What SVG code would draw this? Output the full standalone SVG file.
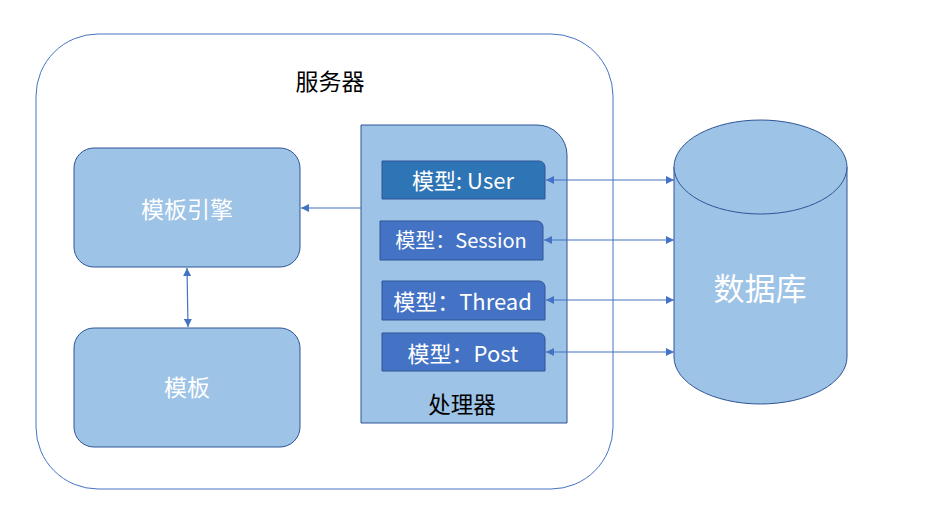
<svg xmlns="http://www.w3.org/2000/svg" width="942" height="531" viewBox="0 0 942 531">
<defs>
<style>
.box{fill:#9DC3E6;stroke:#2F5597;stroke-width:1}
.model{stroke:#2F5597;stroke-width:1}
.wt{fill:#FFFFFF;font-family:"Noto Sans CJK SC","Noto Sans",sans-serif;text-anchor:middle;dominant-baseline:central}
.bt{fill:#000000;font-family:"Noto Sans CJK SC","Noto Sans",sans-serif;text-anchor:middle;dominant-baseline:central}
.conn{stroke:#4472C4;stroke-width:1.2;fill:none}
</style>
<marker id="ah" viewBox="0 0 10 10" refX="10" refY="5" markerWidth="8" markerHeight="8" markerUnits="userSpaceOnUse" orient="auto-start-reverse">
<path d="M0,0 L10,5 L0,10 z" fill="#4472C4"/>
</marker>
</defs>
<rect width="942" height="531" fill="#FFFFFF"/>
<g id="server">
<rect x="36" y="34" width="577" height="455" rx="62" ry="62" fill="#FFFFFF" stroke="#4472C4" stroke-width="1"/>
<text class="bt" x="330" y="80" font-size="23">服务器</text>
</g>
<g id="processor">
<path class="box" d="M361,125 H537 A30,30 0 0 1 567,155 V423 H361 Z"/>
<text class="bt" x="462" y="403" font-size="22.5">处理器</text>
</g>
<g id="model-user">
<path class="model" fill="#2E75B6" d="M382,161 H539 A6,6 0 0 1 545,167 V199 H382 Z"/>
<text class="wt" x="463" y="178.5" font-size="22">模型: User</text>
</g>
<g id="model-session">
<path class="model" fill="#4472C4" d="M380,221 H537 A6,6 0 0 1 543,227 V260 H380 Z"/>
<text class="wt" x="461" y="239.5" font-size="20">模型：Session</text>
</g>
<g id="model-thread">
<path class="model" fill="#4472C4" d="M382,281 H539 A6,6 0 0 1 545,287 V320 H382 Z"/>
<text class="wt" x="462.5" y="299.5" font-size="22">模型：Thread</text>
</g>
<g id="model-post">
<path class="model" fill="#4472C4" d="M382,333 H539 A6,6 0 0 1 545,339 V371 H382 Z"/>
<text class="wt" x="463" y="351.5" font-size="22">模型：Post</text>
</g>
<g id="template-engine">
<rect class="box" x="74" y="148" width="226" height="119" rx="20" ry="20"/>
<text class="wt" x="187" y="208" font-size="23">模板引擎</text>
</g>
<g id="template">
<rect class="box" x="74" y="328" width="226" height="119" rx="20" ry="20"/>
<text class="wt" x="187" y="386" font-size="23">模板</text>
</g>
<g id="database">
<path class="box" d="M674,167 V357 A86.5,47 0 0 0 847,357 V167"/>
<ellipse class="box" cx="760.5" cy="167" rx="86.5" ry="47"/>
<text class="wt" x="760" y="286" font-size="31">数据库</text>
</g>
<g id="connectors">
<line class="conn" x1="361" y1="208" x2="301" y2="208" marker-end="url(#ah)"/>
<line class="conn" x1="187" y1="268" x2="188" y2="327" marker-start="url(#ah)" marker-end="url(#ah)"/>
<line class="conn" x1="546" y1="180" x2="674" y2="180" marker-start="url(#ah)" marker-end="url(#ah)"/>
<line class="conn" x1="544" y1="240" x2="674" y2="240" marker-start="url(#ah)" marker-end="url(#ah)"/>
<line class="conn" x1="546" y1="300" x2="674" y2="300" marker-start="url(#ah)" marker-end="url(#ah)"/>
<line class="conn" x1="546" y1="352" x2="674" y2="352" marker-start="url(#ah)" marker-end="url(#ah)"/>
</g>
</svg>
